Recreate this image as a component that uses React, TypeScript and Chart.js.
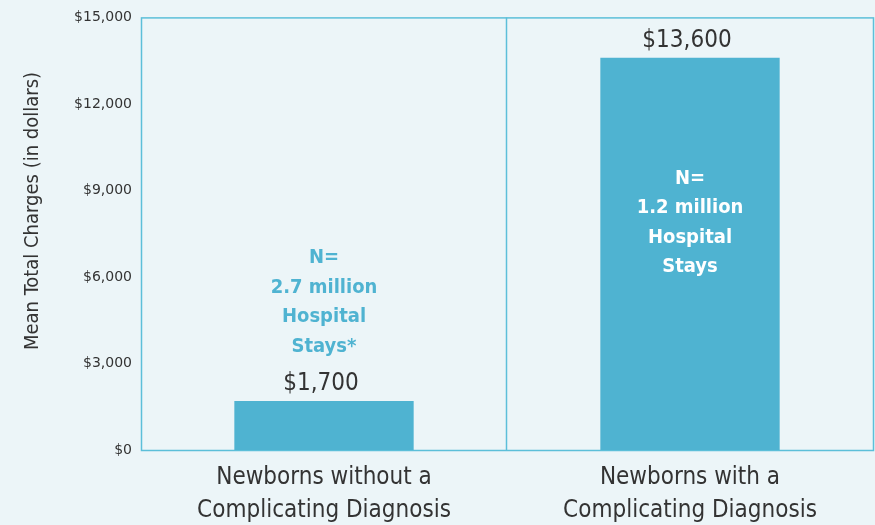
import React, { useEffect, useRef } from "react";
import { Chart, registerables } from "chart.js";

Chart.register(...registerables);

const categories: string[][] = [
  ["Newborns without a", "Complicating Diagnosis"],
  ["Newborns with a", "Complicating Diagnosis"],
];
const meanCharges: number[] = [1700, 13600];
const valueLabels: string[] = ["$1,700", "$13,600"];
const countNotes: string[][] = [
  ["N=", "2.7 million", "Hospital", "Stays*"],
  ["N=", "1.2 million", "Hospital", "Stays"],
];
const yTicks: number[] = [0, 3000, 6000, 9000, 12000, 15000];
const yTitle = "Mean Total Charges (in dollars)";

const BG = "#ecf5f8";
const BAR = "#4fb3d1";
const LINE = "#5cbfd9";
const TEXT = "#333333";
const NARROW = "'Liberation Sans Narrow', 'DejaVu Sans Condensed', sans-serif";

const overlay = {
  id: "overlay",
  beforeDatasetsDraw(chart: any) {
    const { ctx, chartArea } = chart;
    const xs = chart.scales.x;
    ctx.save();
    ctx.strokeStyle = LINE;
    ctx.lineWidth = 1.5;
    ctx.strokeRect(chartArea.left + 0.5, chartArea.top + 0.5, chartArea.right - chartArea.left, chartArea.bottom - chartArea.top);
    const mid = (xs.getPixelForValue(0) + xs.getPixelForValue(1)) / 2 - 1;
    ctx.beginPath();
    ctx.moveTo(Math.round(mid) + 0.5, chartArea.top);
    ctx.lineTo(Math.round(mid) + 0.5, chartArea.bottom);
    ctx.stroke();
    // y axis title
    ctx.translate(33, 211);
    ctx.rotate(-Math.PI / 2);
    ctx.fillStyle = TEXT;
    ctx.font = `20px ${NARROW}`;
    ctx.textAlign = "center";
    ctx.textBaseline = "middle";
    ctx.fillText(yTitle, 0, 0);
    ctx.restore();
  },
  afterDatasetsDraw(chart: any) {
    const { ctx } = chart;
    const meta = chart.getDatasetMeta(0);
    ctx.save();
    ctx.textAlign = "center";
    ctx.textBaseline = "middle";
    meta.data.forEach((bar: any, i: number) => {
      ctx.fillStyle = TEXT;
      ctx.font = `24px ${NARROW}`;
      ctx.fillText(valueLabels[i], bar.x - 3, bar.y - 17);
      ctx.font = "bold 20px 'DejaVu Sans Condensed', 'DejaVu Sans', sans-serif";
      const lines = countNotes[i];
      const step = 29.5;
      let y0: number;
      if (i === 0) {
        ctx.fillStyle = BAR;
        y0 = bar.y - 143;
      } else {
        ctx.fillStyle = "#ffffff";
        y0 = bar.y + 121;
      }
      lines.forEach((t, k) => ctx.fillText(t, bar.x, y0 + k * step));
    });
    ctx.restore();
  },
};

export default function App() {
  const ref = useRef<HTMLCanvasElement | null>(null);
  useEffect(() => {
    document.body.style.margin = "0";
    const chart = new Chart(ref.current as HTMLCanvasElement, {
      type: "bar",
      data: {
        labels: categories,
        datasets: [
          {
            data: meanCharges,
            backgroundColor: BAR,
            borderWidth: 0,
            barPercentage: 0.49,
            categoryPercentage: 1,
          },
        ],
      },
      options: {
        animation: false,
        responsive: false,
        layout: { padding: { top: 17, right: 2, left: 0, bottom: 0 } },
        plugins: { legend: { display: false }, tooltip: { enabled: false } },
        scales: {
          x: {
            grid: { display: false, drawTicks: false },
            border: { display: false },
            ticks: {
              color: TEXT,
              padding: 12,
              font: { family: NARROW, size: 24, lineHeight: 1.35 },
              maxRotation: 0,
            },
            afterFit: (s: any) => {
              s.height = 75;
            },
          },
          y: {
            min: 0,
            max: 15000,
            grid: { display: false, drawTicks: false },
            border: { display: false },
            afterBuildTicks: (s: any) => {
              s.ticks = yTicks.map((v) => ({ value: v }));
            },
            ticks: {
              color: TEXT,
              padding: 9,
              font: { family: "'DejaVu Sans', sans-serif", size: 14 },
              callback: (v: any) => "$" + Number(v).toLocaleString("en-US"),
            },
            afterFit: (s: any) => {
              s.width = 141;
            },
          },
        },
      },
      plugins: [overlay],
    });
    return () => chart.destroy();
  }, []);
  return (
    <div style={{ width: 875, height: 525, background: BG, position: "relative" }}>
      <canvas ref={ref} width={875} height={525} style={{ display: "block" }} />
    </div>
  );
}
